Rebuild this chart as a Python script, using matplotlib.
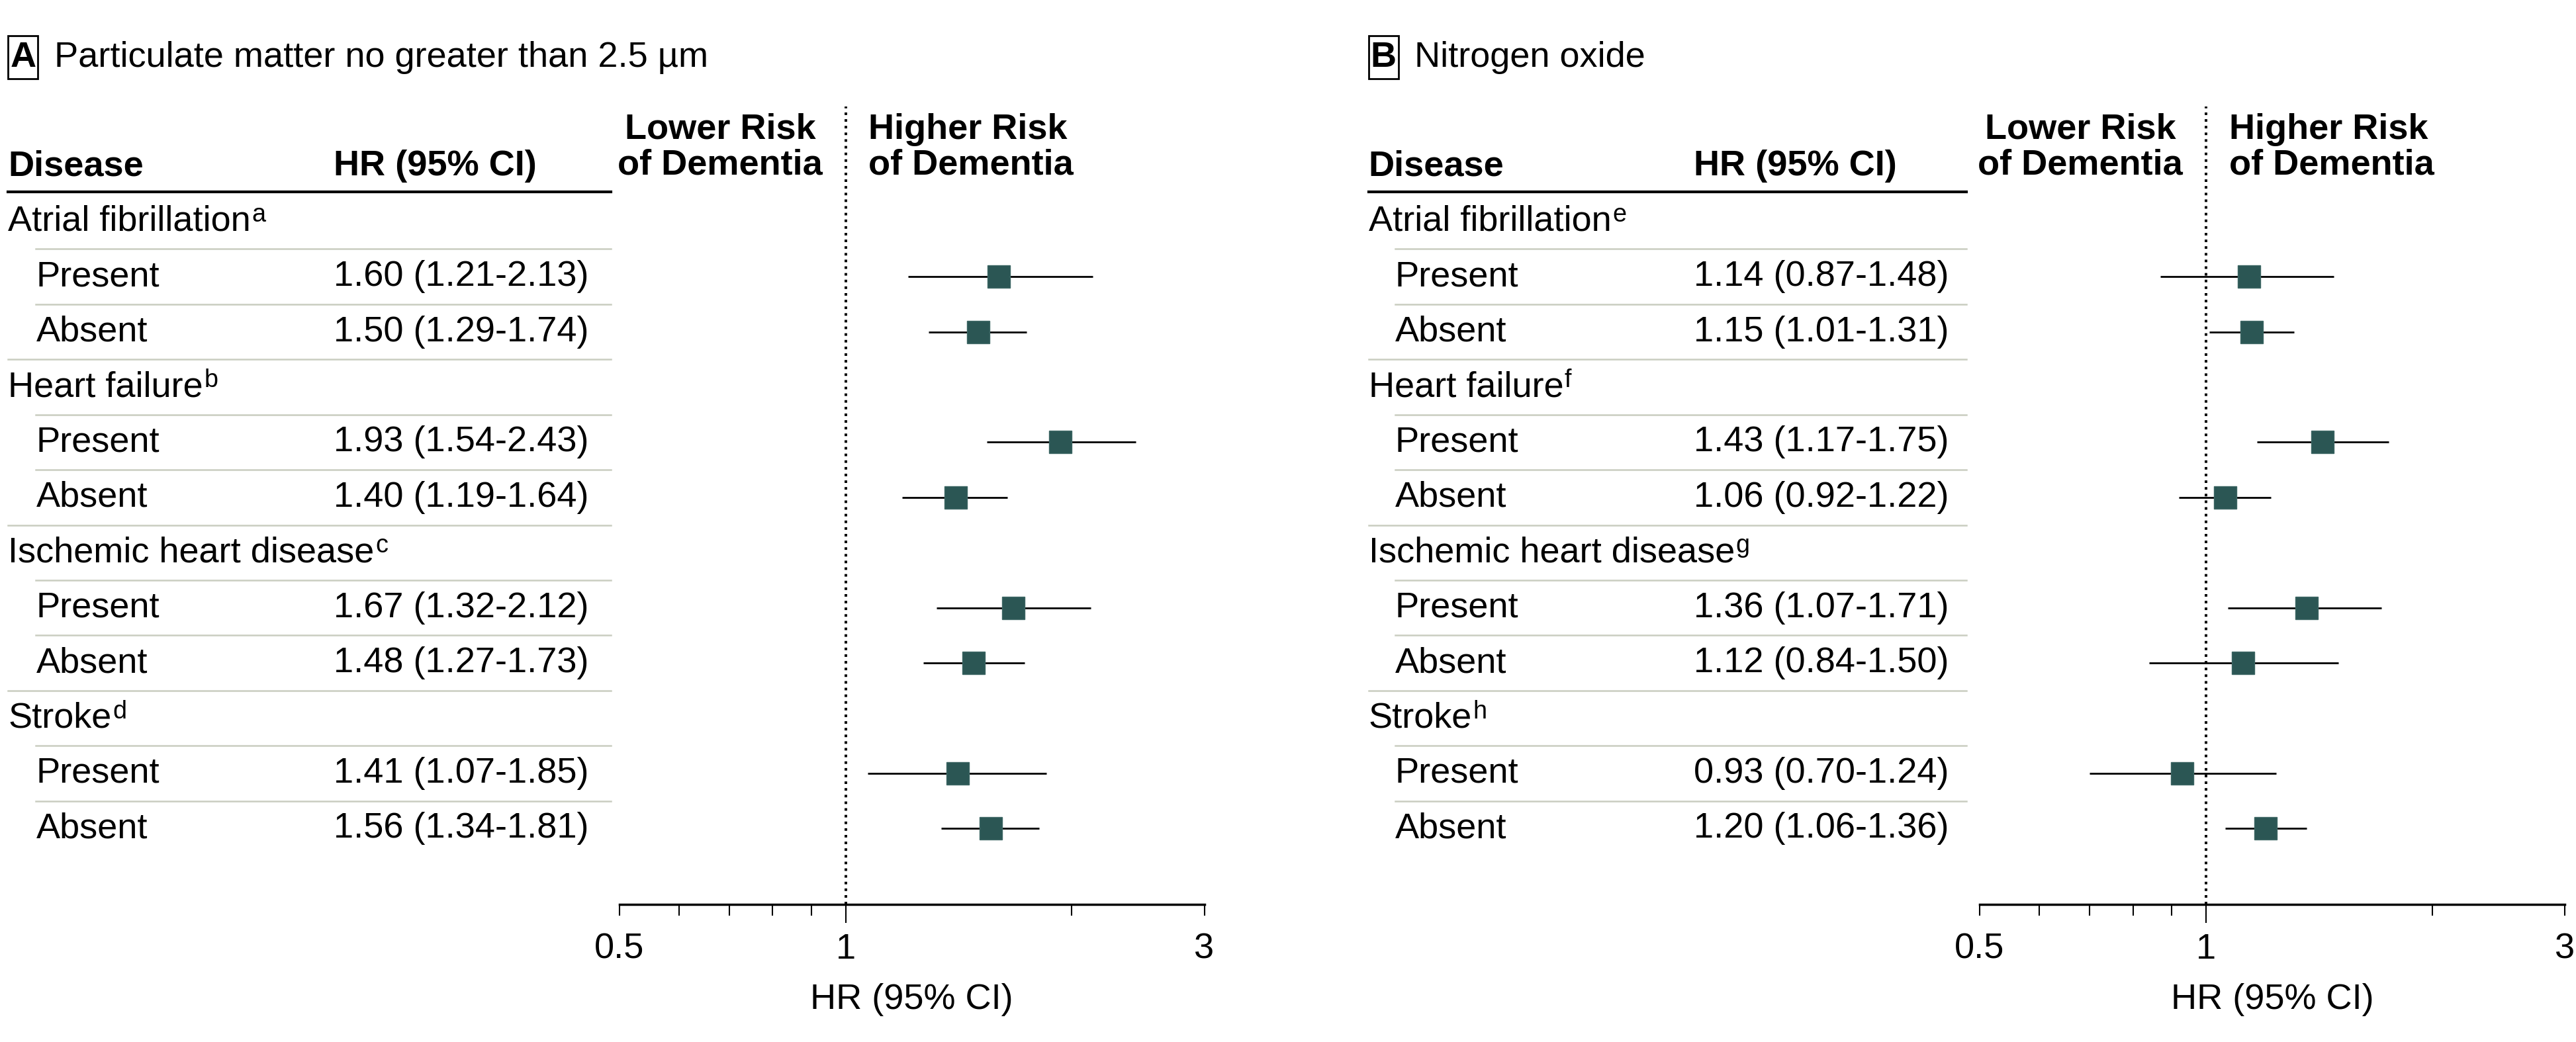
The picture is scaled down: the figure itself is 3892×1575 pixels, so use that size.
import matplotlib
matplotlib.use('Agg')
import matplotlib.pyplot as plt
from matplotlib.transforms import blended_transform_factory
from matplotlib.patches import Rectangle
from matplotlib.lines import Line2D
from matplotlib.ticker import NullFormatter

plt.rcParams['font.family'] = ['Liberation Sans', 'DejaVu Sans']

# data
diseases = ['Atrial fibrillation', 'Heart failure', 'Ischemic heart disease', 'Stroke']
subgroups = ['Present', 'Absent']
sups_pm = ['a', 'b', 'c', 'd']
sups_no = ['e', 'f', 'g', 'h']

pm_hr = [1.60, 1.50, 1.93, 1.40, 1.67, 1.48, 1.41, 1.56]
pm_lo = [1.21, 1.29, 1.54, 1.19, 1.32, 1.27, 1.07, 1.34]
pm_hi = [2.13, 1.74, 2.43, 1.64, 2.12, 1.73, 1.85, 1.81]

no_hr = [1.14, 1.15, 1.43, 1.06, 1.36, 1.12, 0.93, 1.20]
no_lo = [0.87, 1.01, 1.17, 0.92, 1.07, 0.84, 0.70, 1.06]
no_hi = [1.48, 1.31, 1.75, 1.22, 1.71, 1.50, 1.24, 1.36]

xticks = [0.5, 1, 3]
xticklabels = ['0.5', '1', '3']
xminor = [0.6, 0.7, 0.8, 0.9, 2]

FS = 39
TEAL = '#2b5654'
GRID = '#c9cdc0'

fig = plt.figure(figsize=(38.92, 15.75), dpi=100)


def panel(left, x_dis, x_ind, x_hr, x_end, letter, title, sups, hr, lo, hi):
    ax = fig.add_axes([left, 0.1323, 0.2271, 0.7653])
    tr = blended_transform_factory(fig.transFigure, ax.transData)

    # box letter + title
    fig.patches.append(Rectangle((x_dis, 0.9244), 0.0115, 0.041, transform=fig.transFigure,
                                 fill=False, ec='black', lw=2))
    fig.text(x_dis + 0.00575, 0.9449, letter, fontsize=FS, fontweight='bold', ha='center', va='center')
    fig.text(x_dis + 0.0178, 0.9449, title, fontsize=FS, ha='left', va='center')

    # table header
    ax.text(x_dis, -1.0, 'Disease', transform=tr, fontsize=FS, fontweight='bold', va='center')
    ax.text(x_hr, -1.0, 'HR (95% CI)', transform=tr, fontsize=FS, fontweight='bold', va='center')
    ax.add_line(Line2D([x_dis, x_end], [-0.54, -0.54], transform=tr, color='black', lw=3, clip_on=False))

    for k, d in enumerate(diseases):
        r = 3 * k
        t = ax.text(x_dis, r, d, transform=tr, fontsize=FS, va='center')
        ax.annotate(sups[k], xy=(1, 1), xycoords=t, fontsize=FS * 0.7, ha='left', va='top',
                    xytext=(1, 2), textcoords='offset points')
        ax.add_line(Line2D([x_ind, x_end], [r + 0.5, r + 0.5], transform=tr, color=GRID, lw=1.8, clip_on=False))
        for j, s in enumerate(subgroups):
            i = 2 * k + j
            y = r + 1 + j
            ax.text(x_ind, y, s, transform=tr, fontsize=FS, va='center')
            ax.text(x_hr, y, f'{hr[i]:.2f} ({lo[i]:.2f}-{hi[i]:.2f})', transform=tr, fontsize=FS, va='center')
            ax.plot([lo[i], hi[i]], [y, y], color='black', lw=2, solid_capstyle='butt', zorder=2)
            ax.plot(hr[i], y, marker='s', ms=24, color=TEAL, mec='#3d6664', mew=1, ls='none', zorder=3)
            if j == 0:
                ax.add_line(Line2D([x_ind, x_end], [y + 0.5, y + 0.5], transform=tr, color=GRID, lw=1.8,
                                   clip_on=False))
            elif k < len(diseases) - 1:
                ax.add_line(Line2D([x_dis, x_end], [y + 0.5, y + 0.5], transform=tr, color=GRID, lw=1.8,
                                   clip_on=False))

    # reference line and direction headings
    ax.axvline(1, color='black', ls=(0, (1, 1.6)), lw=2.8, zorder=1)
    ax.annotate('Lower Risk\nof Dementia', xy=(1, -1.345), xycoords='data', xytext=(-25, 0),
                textcoords='offset points', fontsize=FS, fontweight='bold', ha='right', va='center',
                multialignment='center', linespacing=1.1)
    ax.annotate('Higher Risk\nof Dementia', xy=(1, -1.345), xycoords='data', xytext=(25, 0),
                textcoords='offset points', fontsize=FS, fontweight='bold', ha='left', va='center',
                multialignment='left', linespacing=1.1)

    ax.set_xscale('log')
    ax.set_xlim(0.5, 3)
    ax.set_ylim(12.37, -2.08)
    ax.set_xticks(xticks)
    ax.set_xticklabels(xticklabels)
    ax.set_xticks(xminor, minor=True)
    ax.xaxis.set_minor_formatter(NullFormatter())
    ax.set_yticks([])
    for sp in ['top', 'right', 'left']:
        ax.spines[sp].set_visible(False)
    ax.spines['bottom'].set_linewidth(2.5)
    ax.tick_params(axis='x', which='both', direction='out', length=12, width=1.5, labelsize=FS, pad=19)
    ax.xaxis.get_major_ticks()[1].tick1line.set_markersize(20)
    ax.set_xlabel('HR (95% CI)', fontsize=FS, labelpad=19)
    ax.patch.set_alpha(0)
    return ax


axA = panel(0.2404, 0.0032, 0.014, 0.1295, 0.2372, 'A', 'Particulate matter no greater than 2.5 µm',
            sups_pm, pm_hr, pm_lo, pm_hi)
axB = panel(0.7685, 0.5313, 0.5415, 0.6575, 0.7634, 'B', 'Nitrogen oxide',
            sups_no, no_hr, no_lo, no_hi)

fig.savefig('out.png', dpi=100)
